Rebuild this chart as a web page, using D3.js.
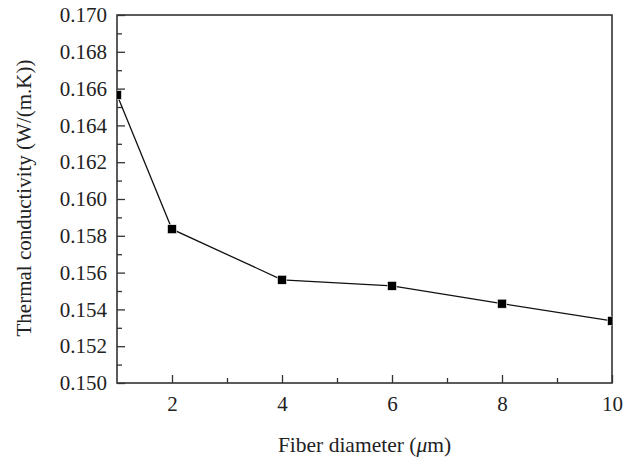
<!DOCTYPE html>
<html>
<head>
<meta charset="utf-8">
<script src="https://cdn.jsdelivr.net/npm/d3@7"></script>
<style>
  body { margin: 0; background: #fff; }
</style>
</head>
<body>
<svg id="chart" width="636" height="464"></svg>
<script>
// fiber diameter (um) and thermal conductivity
var diameters = [1, 2, 4, 6, 8, 10];
var conductivity = [0.16566, 0.15836, 0.15561, 0.15528, 0.15431, 0.15338];
var xTicks = [2, 4, 6, 8, 10];
var yTicks = [0.150, 0.152, 0.154, 0.156, 0.158, 0.160, 0.162, 0.164, 0.166, 0.168, 0.170];

var serif = "'Liberation Serif', 'DejaVu Serif', serif";

var svg = d3.select('#chart'),
   margin = {top: 15, right: 24, bottom: 81, left: 117},
   width = +svg.attr("width") - margin.left - margin.right,
   height = +svg.attr("height") - margin.top - margin.bottom,
   g = svg.append("g").attr("transform", "translate(" + margin.left + "," + margin.top + ")");

var x = d3.scaleLinear().domain([1, 10]).range([0, width]);
var y = d3.scaleLinear().domain([0.150, 0.170]).range([height, 0]);

// minor ticks (inward)
g.append("g")
 .attr("transform", "translate(0," + height + ")")
 .call(d3.axisBottom(x).tickValues([3, 5, 7, 9]).tickSizeInner(-5).tickSizeOuter(0).tickFormat(""))
 .call(function (s) { s.select(".domain").remove(); });
g.append("g")
 .call(d3.axisLeft(y).tickValues(d3.range(0.151, 0.170, 0.002)).tickSizeInner(-5).tickSizeOuter(0).tickFormat(""))
 .call(function (s) { s.select(".domain").remove(); });

// major ticks
g.append("g")
 .attr("class", "axis axis--x")
 .attr("transform", "translate(0," + height + ")")
 .call(d3.axisBottom(x).tickValues(xTicks).tickSizeInner(-8).tickSizeOuter(0).tickPadding(13).tickFormat(d3.format("d")))
 .call(function (s) { s.select(".domain").remove(); });
g.append("g")
 .attr("class", "axis axis--y")
 .call(d3.axisLeft(y).tickValues(yTicks).tickSizeInner(-8).tickSizeOuter(0).tickPadding(10).tickFormat(d3.format(".3f")))
 .call(function (s) { s.select(".domain").remove(); });

g.selectAll(".tick line").attr("stroke", "#333").attr("stroke-width", 1.3);
g.selectAll(".tick text")
 .style("font-family", serif)
 .style("font-size", "21px")
 .attr("fill", "#222");

// frame
g.append("rect")
 .attr("width", width).attr("height", height)
 .attr("fill", "none").attr("stroke", "#333").attr("stroke-width", 1.6);

g.append("defs").append("clipPath")
 .attr("id", "clip")
 .append("rect")
 .attr("width", width)
 .attr("height", height);

var pts = diameters.map(function (d, i) { return [d, conductivity[i]]; });

var line = d3.line()
   .x(function (d) { return x(d[0]); })
   .y(function (d) { return y(d[1]); });

var plot = g.append("g").attr("clip-path", "url(#clip)");
plot.append("path")
 .datum(pts)
 .attr("fill", "none")
 .attr("stroke", "#111")
 .attr("stroke-width", 1.3)
 .attr("d", line);

plot.selectAll(".pt")
 .data(pts)
 .enter().append("rect")
 .attr("class", "pt")
 .attr("x", function (d) { return x(d[0]) - 4.5; })
 .attr("y", function (d) { return y(d[1]) - 4.5; })
 .attr("width", 9).attr("height", 9)
 .attr("fill", "#000")
 .attr("stroke", "#fff")
 .attr("stroke-width", 0.6);

// axis titles
svg.append("text")
 .attr("x", margin.left + width / 2)
 .attr("y", 452)
 .attr("text-anchor", "middle")
 .style("font-family", serif)
 .style("font-size", "21.5px")
 .attr("fill", "#222")
 .html("Fiber diameter (<tspan font-style='italic'>μ</tspan>m)");

svg.append("text")
 .attr("transform", "translate(31,198) rotate(-90)")
 .attr("text-anchor", "middle")
 .style("font-family", serif)
 .style("font-size", "21px")
 .attr("fill", "#222")
 .text("Thermal conductivity (W/(m.K))");
</script>
</body>
</html>
